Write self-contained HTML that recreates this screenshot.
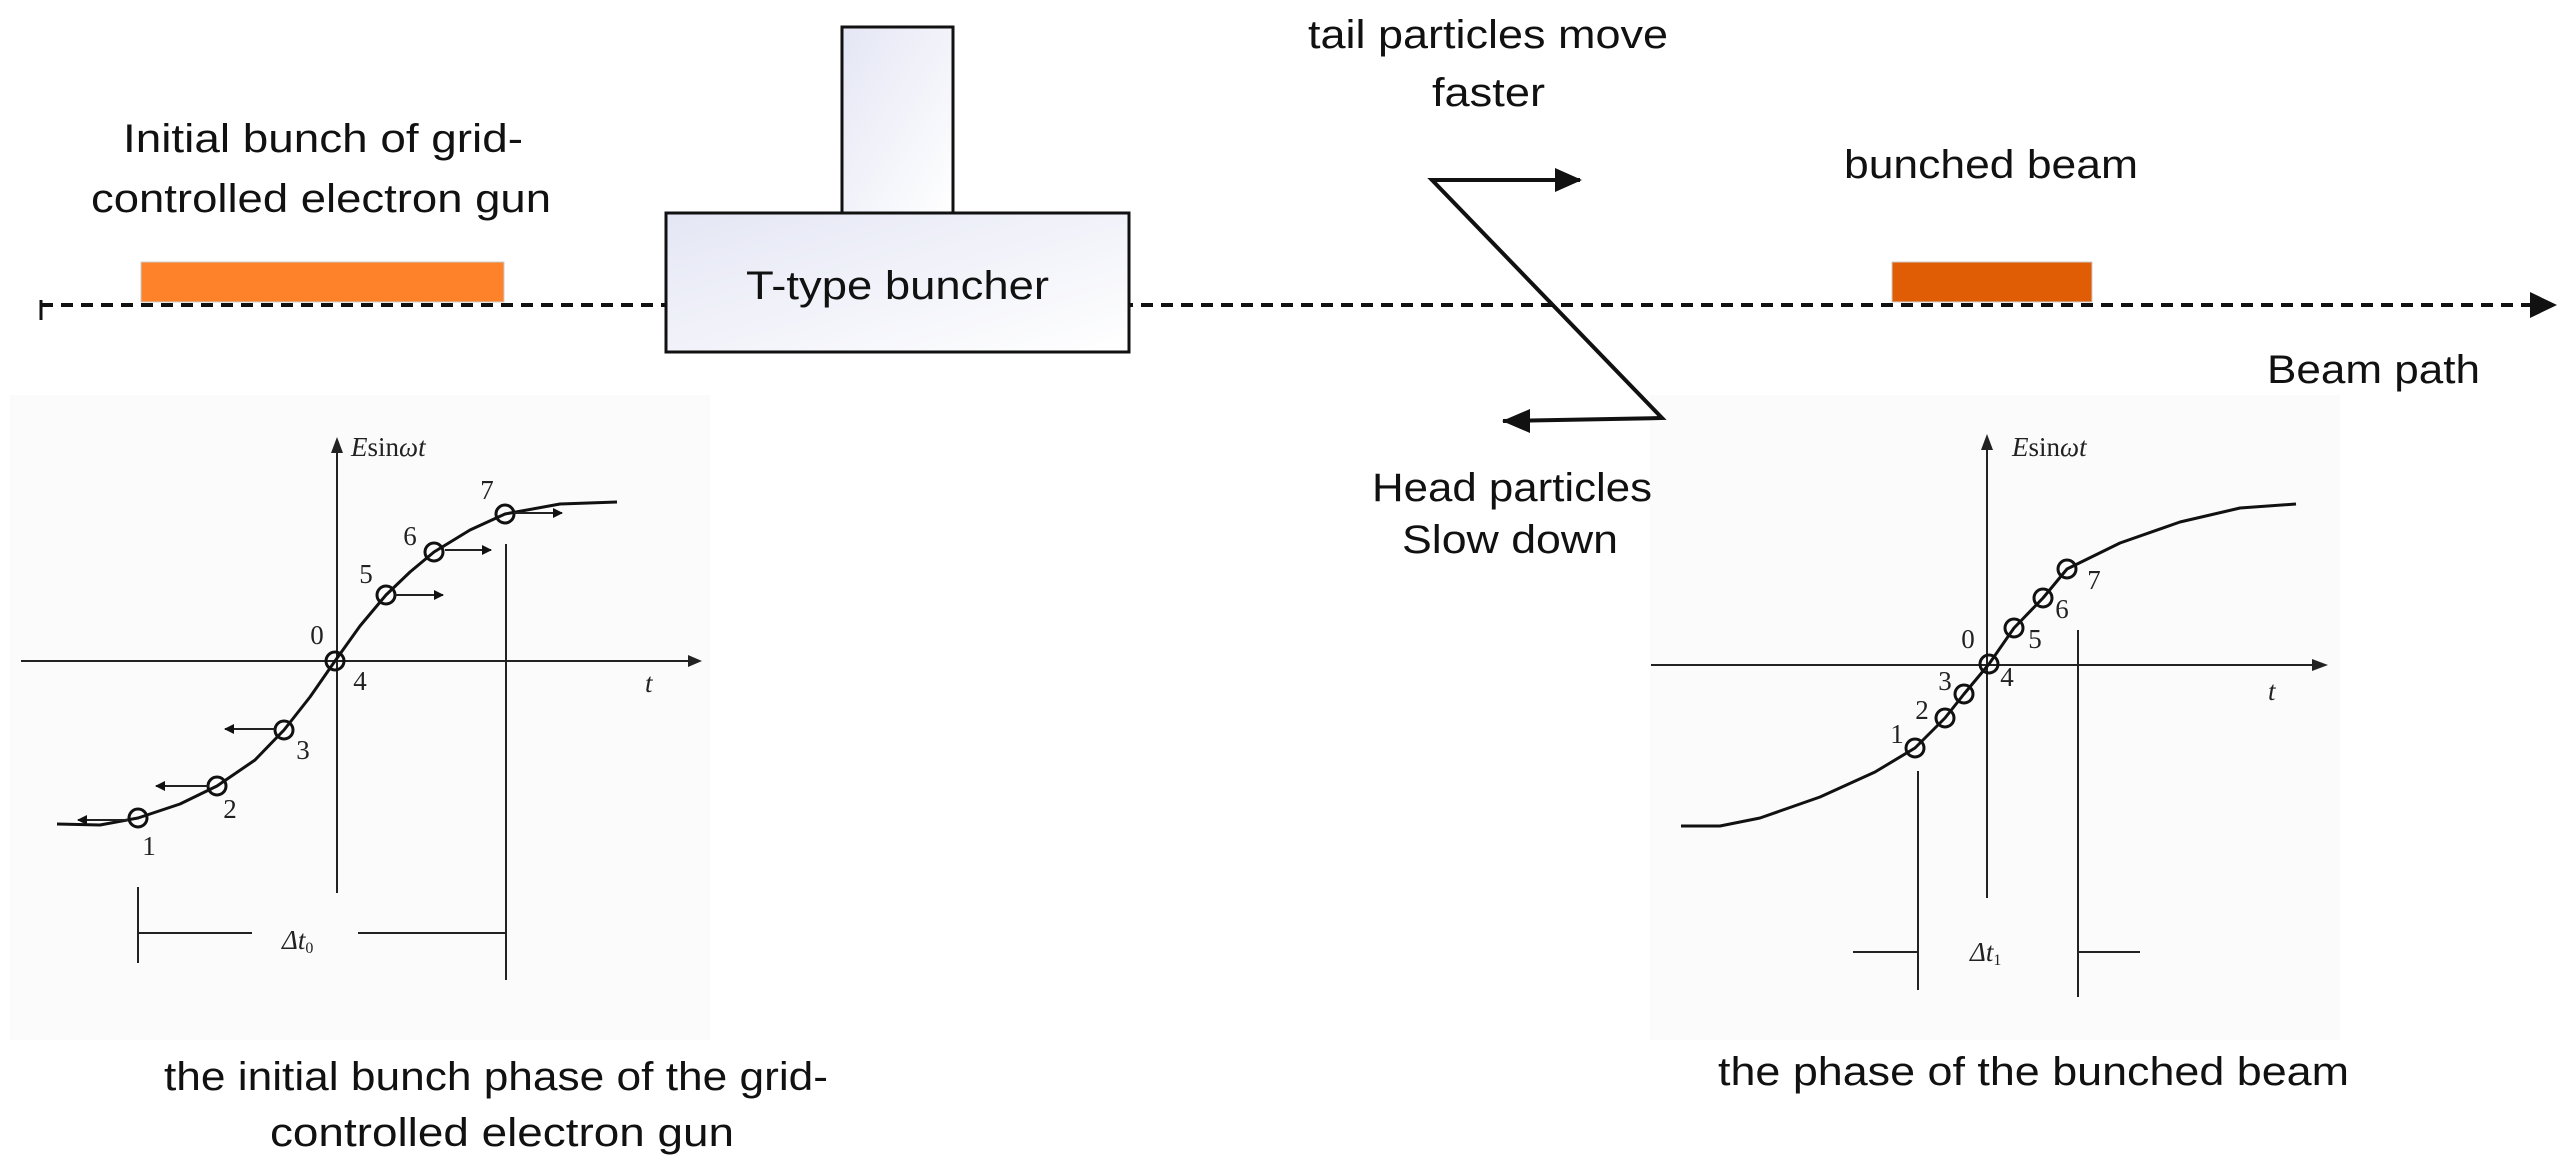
<!DOCTYPE html>
<html><head><meta charset="utf-8"><style>
html,body{margin:0;padding:0;background:#fff;}
svg{display:block;}
text{font-family:"Liberation Sans",sans-serif;fill:#111;}
.s{font-family:"Liberation Serif",serif;font-size:27px;fill:#222;}
</style></head><body>
<svg width="2570" height="1170" viewBox="0 0 2570 1170" xmlns="http://www.w3.org/2000/svg">
<defs>
<linearGradient id="g" x1="0" y1="0" x2="1" y2="1">
<stop offset="0" stop-color="#e4e6f4"/><stop offset="1" stop-color="#ffffff"/></linearGradient>
<marker id="ah" markerWidth="10" markerHeight="10" refX="9" refY="5" orient="auto" markerUnits="userSpaceOnUse" viewBox="0 0 10 10"><path d="M0,0 L10,5 L0,10 z" fill="#111"/></marker>
</defs>
<rect x="10" y="395" width="700" height="645" fill="#fbfbfb"/>
<rect x="1650" y="395" width="690" height="645" fill="#fbfbfb"/>

<!-- beam path -->
<line x1="41" y1="305" x2="2532" y2="305" stroke="#111" stroke-width="4" stroke-dasharray="12,8"/>
<line x1="41" y1="300" x2="41" y2="320" stroke="#111" stroke-width="3"/>
<path d="M2530,292 L2557,305 L2530,318 z" fill="#111"/>

<rect x="141" y="262" width="363" height="40" fill="#fe8229" stroke="#ccc" stroke-width="1"/>
<rect x="1892" y="262" width="200" height="40" fill="#e05c05" stroke="#ccc" stroke-width="1"/>

<!-- T buncher -->
<rect x="842" y="27" width="111" height="186" fill="url(#g)" stroke="#111" stroke-width="3"/>
<rect x="666" y="213" width="463" height="139" fill="url(#g)" stroke="#111" stroke-width="3"/>
<text x="746" y="299" font-size="40" textLength="303" lengthAdjust="spacingAndGlyphs">T-type buncher</text>

<text x="123" y="152" font-size="40" textLength="400" lengthAdjust="spacingAndGlyphs">Initial bunch of grid-</text>
<text x="91" y="212" font-size="40" textLength="460" lengthAdjust="spacingAndGlyphs">controlled electron gun</text>
<text x="1308" y="48" font-size="40" textLength="360" lengthAdjust="spacingAndGlyphs">tail particles move</text>
<text x="1432" y="106" font-size="40" textLength="113" lengthAdjust="spacingAndGlyphs">faster</text>
<text x="1844" y="178" font-size="40" textLength="294" lengthAdjust="spacingAndGlyphs">bunched beam</text>
<text x="2267" y="383" font-size="40" textLength="213" lengthAdjust="spacingAndGlyphs">Beam path</text>
<text x="1372" y="501" font-size="40" textLength="280" lengthAdjust="spacingAndGlyphs">Head particles</text>
<text x="1402" y="553" font-size="40" textLength="216" lengthAdjust="spacingAndGlyphs">Slow down</text>
<text x="164" y="1090" font-size="40" textLength="664" lengthAdjust="spacingAndGlyphs">the initial bunch phase of the grid-</text>
<text x="270" y="1146" font-size="40" textLength="464" lengthAdjust="spacingAndGlyphs">controlled electron gun</text>
<text x="1718" y="1085" font-size="40" textLength="631" lengthAdjust="spacingAndGlyphs">the phase of the bunched beam</text>

<!-- zigzag -->
<polyline points="1580,180 1432,180 1662,418 1503,421" fill="none" stroke="#111" stroke-width="4"/>
<path d="M1555,168 L1582,180 L1555,192 z" fill="#111"/>
<path d="M1530,409 L1502,421 L1530,433 z" fill="#111"/>

<!-- LEFT PLOT -->
<g stroke="#222" stroke-width="2" fill="none">
<line x1="21" y1="661" x2="690" y2="661"/>
<line x1="337" y1="893" x2="337" y2="450"/>
<line x1="506" y1="544" x2="506" y2="980"/>
<line x1="138" y1="887" x2="138" y2="963"/>
<line x1="138" y1="933" x2="252" y2="933"/>
<line x1="358" y1="933" x2="506" y2="933"/>
</g>
<path d="M688,655 L702,661 L688,667 z" fill="#222"/>
<path d="M331,453 L337,437 L343,453 z" fill="#222"/>
<polyline points="57,824 100,825 138,818 180,804 217,786 255,760 284,730 310,697 335,661 360,626 386,595 410,572 434,552 470,530 505,514 560,504 617,502" fill="none" stroke="#111" stroke-width="3" stroke-linejoin="round"/>
<g fill="none" stroke="#111" stroke-width="3">
<circle cx="138" cy="818" r="9"/><circle cx="217" cy="786" r="9"/><circle cx="284" cy="730" r="9"/>
<circle cx="335" cy="661" r="9"/><circle cx="386" cy="595" r="9"/><circle cx="434" cy="552" r="9"/><circle cx="505" cy="514" r="9"/>
</g>
<g stroke="#222" stroke-width="2" marker-end="url(#ah)">
<line x1="514" y1="513" x2="562" y2="513"/>
<line x1="445" y1="550" x2="491" y2="550"/>
<line x1="395" y1="595" x2="443" y2="595"/>
<line x1="275" y1="729" x2="225" y2="729"/>
<line x1="209" y1="786" x2="156" y2="786"/>
<line x1="128" y1="820" x2="78" y2="820"/>
</g>
<text class="s" x="487" y="499" text-anchor="middle">7</text>
<text class="s" x="410" y="545" text-anchor="middle">6</text>
<text class="s" x="366" y="583" text-anchor="middle">5</text>
<text class="s" x="317" y="644" text-anchor="middle">0</text>
<text class="s" x="360" y="690" text-anchor="middle">4</text>
<text class="s" x="303" y="759" text-anchor="middle">3</text>
<text class="s" x="230" y="818" text-anchor="middle">2</text>
<text class="s" x="149" y="855" text-anchor="middle">1</text>
<text class="s" x="351" y="456" font-style="italic">E<tspan font-style="normal">sin</tspan>ωt</text>
<text class="s" x="645" y="692" font-style="italic">t</text>
<text class="s" x="282" y="949" font-style="italic">Δt<tspan font-size="16" dy="4" font-style="normal">0</tspan></text>

<!-- RIGHT PLOT -->
<g stroke="#222" stroke-width="2" fill="none">
<line x1="1651" y1="665" x2="2315" y2="665"/>
<line x1="1987" y1="898" x2="1987" y2="448"/>
<line x1="1918" y1="771" x2="1918" y2="990"/>
<line x1="2078" y1="630" x2="2078" y2="997"/>
<line x1="1853" y1="952" x2="1918" y2="952"/>
<line x1="2078" y1="952" x2="2140" y2="952"/>
</g>
<path d="M2312,659 L2328,665 L2312,671 z" fill="#222"/>
<path d="M1981,450 L1987,434 L1993,450 z" fill="#222"/>
<polyline points="1681,826 1720,826 1760,818 1820,797 1875,772 1915,748 1945,718 1964,694 1989,664 2014,628 2043,598 2067,569 2120,543 2180,522 2240,508 2296,504" fill="none" stroke="#111" stroke-width="3" stroke-linejoin="round"/>
<g fill="none" stroke="#111" stroke-width="3">
<circle cx="1915" cy="748" r="9"/><circle cx="1945" cy="718" r="9"/><circle cx="1964" cy="694" r="9"/>
<circle cx="1989" cy="664" r="9"/><circle cx="2014" cy="628" r="9"/><circle cx="2043" cy="598" r="9"/><circle cx="2067" cy="569" r="9"/>
</g>
<text class="s" x="1897" y="743" text-anchor="middle">1</text>
<text class="s" x="1922" y="719" text-anchor="middle">2</text>
<text class="s" x="1945" y="690" text-anchor="middle">3</text>
<text class="s" x="1968" y="648" text-anchor="middle">0</text>
<text class="s" x="2007" y="686" text-anchor="middle">4</text>
<text class="s" x="2035" y="648" text-anchor="middle">5</text>
<text class="s" x="2062" y="618" text-anchor="middle">6</text>
<text class="s" x="2094" y="589" text-anchor="middle">7</text>
<text class="s" x="2012" y="456" font-style="italic">E<tspan font-style="normal">sin</tspan>ωt</text>
<text class="s" x="2268" y="700" font-style="italic">t</text>
<text class="s" x="1970" y="961" font-style="italic">Δt<tspan font-size="16" dy="4" font-style="normal">1</tspan></text>
</svg>
</body></html>
